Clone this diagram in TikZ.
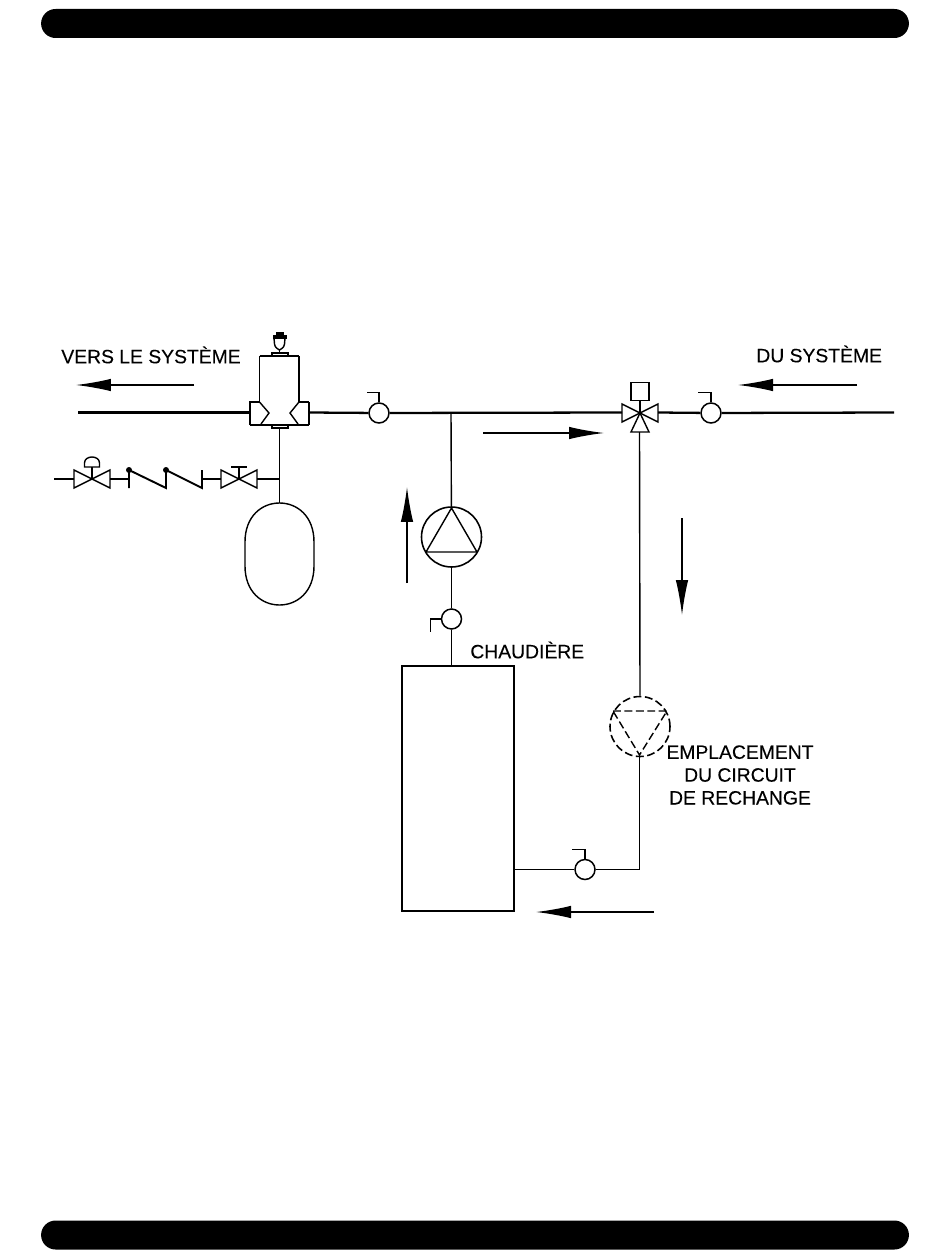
\documentclass[tikz,border=0pt]{standalone}
\usepackage{fontspec}
\setmainfont[FakeBold=0.2]{Liberation Sans}
\usetikzlibrary{arrows.meta}
\tikzset{
	pipe/.style={line width=1.3pt},
	thinpipe/.style={line width=0.8pt},
	gauge/.style={circle,draw,line width=0.85pt,inner sep=0pt,minimum size=0.4cm},
	pumpbody/.style={circle,draw,line width=0.9pt,inner sep=0pt,minimum size=1.2cm},
	flowarrow/.style={line width=0.75pt,-{Latex[length=0.7cm,width=0.25cm]}},
	endbar/.style={fill=black,rounded corners=0.29cm,inner sep=0pt,minimum width=17.36cm,minimum height=0.58cm},
	lbl/.style={font=\fontsize{11}{13}\selectfont,inner sep=0pt,align=center},
}
\begin{document}
\begin{tikzpicture}[x=0.02cm,y=-0.02cm]
	\useasboundingbox (0,0) rectangle (950,1260);
	\node[endbar] (topbar) at (475,23.5) {};
	\node[endbar] (botbar) at (475,1235) {};
	% main line
	\coordinate (mainW) at (78,412.5);
	\coordinate (mainE) at (894,412.5);
	\coordinate (body) at (279.5,413);
	\coordinate (mix) at (640,413);
	\coordinate (teeP) at (451,412.5);
	\node[gauge] (gaugeA) at (379,413) {};
	\node[gauge] (gaugeC) at (711,413) {};
	\draw[pipe] (mainW) -- (250,412.5);
	\draw[pipe] (309,412.5) -- (gaugeA);
	\draw[pipe] (gaugeA) -- (622,412.5);
	\draw[pipe] (658,412.5) -- (gaugeC);
	\draw[pipe] (gaugeC) -- (mainE);
	\draw[thinpipe] (gaugeA.north) -- ++(0,-9.5) -- ++(-12,0);
	\draw[thinpipe] (gaugeC.north) -- ++(0,-9.5) -- ++(-13,0);
	% air separator
	\draw[thinpipe] (250,425) -- (250,402) -- (259.5,402);
	\draw[pipe] (250,425) -- (309,425);
	\draw[line width=1.4pt] (309,425) -- (309,402);
	\draw[thinpipe] (309,402) -- (299,402);
	\draw[thinpipe] (259.5,402) -- (259.5,356);
	\draw[thinpipe] (299,402) -- (299,356);
	\draw[pipe] (259.5,356) -- (299,356);
	\draw[thinpipe] (259.5,402) -- (269,413) -- (261,424);
	\draw[thinpipe] (299,402) -- (290,413) -- (298,424);
	\draw[thinpipe,fill=white] (272,425) rectangle (288,428);
	\draw[thinpipe,fill=white] (272,353) rectangle (288,356);
	% vent
	\draw[thinpipe] (274,338) -- (274.5,344) .. controls (275,348) and (278,349) .. (279.5,350) .. controls (281,349) and (284,348) .. (284.5,344) -- (285,338);
	\draw[thinpipe] (279.5,350) -- (279.5,353);
	\fill (273,335) rectangle (287,338.5);
	\fill (276,332) rectangle (284,336);
	% expansion tank
	\coordinate (tankT) at (279.5,503);
	\draw[thinpipe] (279.5,428) -- (tankT);
	\draw[thinpipe] (245,542) .. controls (245,516) and (262,503) .. (tankT) .. controls (297,503) and (314,516) .. (314,542) -- (314,566) .. controls (314,592) and (297,605) .. (279.5,605) .. controls (262,605) and (245,592) .. (245,566) -- cycle;
	% feed line
	\coordinate (feedW) at (54,479);
	\coordinate (feedE) at (279.5,479);
	\coordinate (valveA) at (92,479);
	\coordinate (valveB) at (239,479);
	\draw[thinpipe] (feedW) -- (74,479);
	\draw[thinpipe] (valveA) ++(-18,-9) -- ++(36,18) -- ++(0,-18) -- ++(-36,18) -- cycle;
	\draw[thinpipe] (valveA) -- ++(0,-12);
	\draw[thinpipe] (84.5,467) -- (84.5,463) .. controls (84.5,455) and (99.5,455) .. (99.5,463) -- (99.5,467) -- cycle;
	\draw[thinpipe] (110,479) -- (129,479);
	\draw[line width=1.1pt] (129,488) -- (129,470) -- (166,488) -- (166,470) -- (202,488) -- (202,470);
	\fill (129,470) circle (3);
	\fill (166,470) circle (3);
	\draw[thinpipe] (202,479) -- (221,479);
	\draw[thinpipe] (valveB) ++(-18,-9) -- ++(36,18) -- ++(0,-18) -- ++(-36,18) -- cycle;
	\draw[thinpipe] (valveB) -- ++(0,-12);
	\draw[thinpipe] (231,467) -- (247,467);
	\draw[thinpipe] (257,479) -- (feedE);
	% mixing valve
	\node[draw,thinpipe,minimum size=0.36cm,inner sep=0pt] (actuator) at (640,391.5) {};
	\draw[thinpipe] (actuator) -- (mix);
	\draw[thinpipe] (mix) ++(-18,-9) -- ++(36,18) -- ++(0,-18) -- ++(-36,18) -- cycle;
	\draw[thinpipe] (mix) -- (631,432) -- (649,432) -- cycle;
	% boiler loop
	\node[pumpbody] (pumpB) at (451.5,537) {};
	\node[gauge] (gaugeB) at (451.5,619) {};
	\node[draw,line width=0.7pt,inner sep=0pt,minimum width=2.24cm,minimum height=4.9cm] (boiler) at (458,788.5) {};
	\draw[thinpipe] (teeP) -- (pumpB);
	\draw[thinpipe] (pumpB) -- (gaugeB);
	\draw[thinpipe] (gaugeB) -- (gaugeB |- boiler.north);
	\draw[thinpipe] (451.5,508) -- (477,552) -- (426,552) -- cycle;
	\draw[thinpipe] (gaugeB.west) -- ++(-10,0) -- ++(0,13);
	\node[gauge] (gaugeD) at (585,869.5) {};
	\coordinate (corner) at (639.5,869.5);
	\draw[thinpipe] (boiler.east |- gaugeD) -- (gaugeD);
	\draw[thinpipe] (gaugeD) -- (corner) -- (639.5,756);
	\draw[thinpipe] (gaugeD.north) -- ++(0,-9.5) -- ++(-13,0);
	% optional pump
	\node[pumpbody,dashed,dash pattern=on 4.5pt off 2pt] (pumpS) at (640,726.5) {};
	\draw[thinpipe] (639.5,432) -- (pumpS.north);
	\draw[thinpipe,dash pattern=on 4.5pt off 2pt] (613,711) -- (667,711) -- (639.5,755) -- cycle;
	% flow arrows
	\draw[flowarrow] (194,385) -- (76,385);
	\draw[flowarrow] (857,385) -- (738,385);
	\draw[flowarrow] (483,433) -- (604,433);
	\draw[flowarrow] (407,583) -- (407,487);
	\draw[flowarrow] (682,518) -- (682,615);
	\draw[flowarrow] (654,912) -- (536,912);
	% labels
	\node[lbl,anchor=west] (txtVers) at (61,355) {VERS LE SYSTÈME};
	\node[lbl,anchor=west] (txtDu) at (756,354) {DU SYSTÈME};
	\node[lbl,anchor=west] (txtBoiler) at (470,650) {CHAUDIÈRE};
	\node[lbl,anchor=center] (txtSpare) at (740,775) {EMPLACEMENT\\DU CIRCUIT\\DE RECHANGE};
\end{tikzpicture}
\end{document}
